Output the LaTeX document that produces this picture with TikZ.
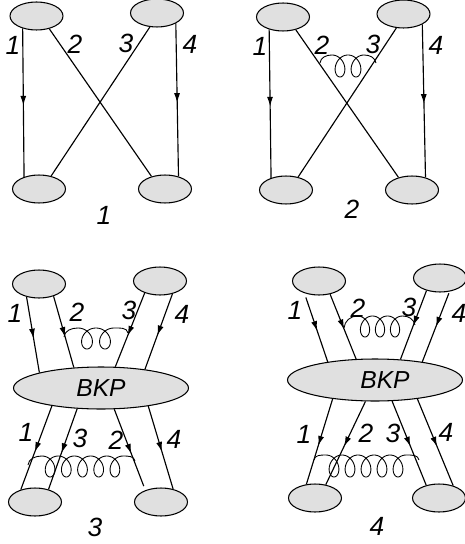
\documentclass[tikz,border=0pt]{standalone}
\usepackage{fontspec}
\setmainfont{Liberation Sans}
\usetikzlibrary{shapes.geometric}
\usetikzlibrary{arrows.meta}
\usetikzlibrary{decorations.markings}
\tikzset{>={Latex[length=5.6pt,width=3.4pt]}}
\tikzset{
    blob/.style={ellipse, draw, fill=black!12, line width=.6pt, inner sep=0, minimum width=1.06cm, minimum height=.56cm},
    bkp/.style={blob, minimum width=3.5cm, minimum height=.84cm, font=\fontsize{14}{16}\selectfont\itshape},
    lab/.style={font=\fontsize{15}{17}\selectfont\itshape, inner sep=0},
    quark/.style={line width=.65pt},
    flow/.style={quark, postaction={decorate}, decoration={markings, mark=at position #1 with {\arrow{>}}}},
    flow/.default=.55
}
% gluon: start, first top x, y, step, number of loops, loop height, loop width, end
\newcommand{\gluon}[8]{
    \draw[line width=.5pt] (#1) to[out=85, in=180] (#2, #3)
        -- plot[domain=0:360*#5, samples=40*#5, smooth, variable=\t]
            ({#2+#4*(\t/360)+#7*sin(\t)}, {#3+#6*(1-cos(\t))})
        to[out=0, in=100] (#8);
}
\begin{document}
\begin{tikzpicture}[x=.02cm, y=-.02cm]
    \useasboundingbox (0, 0) rectangle (464, 544);
    % 1 and 2 are the same crossing
    \foreach \p/\dx/\dy/\xa/\ya/\xb/\yb/\xc/\yc/\xd/\yd in {
        a/0/0/36.5/16/157/13/39/189/165/189,
        b/246.5/1/36.5/16/157/13/39.5/190/165.5/190}{
        \node[blob] (\p1) at (\xa+\dx, \ya+\dy) {};
        \node[blob] (\p2) at (\xb+\dx, \yb+\dy) {};
        \node[blob] (\p3) at (\xc+\dx, \yc) {};
        \node[blob] (\p4) at (\xd+\dx, \yd) {};
        \draw[flow=.52] (\p1.-138) -- (\p3.141);
        \draw[quark] (\p1.-45) -- (\p4.137);
        \draw[quark] (\p2.-117) -- (\p3.47);
        \draw[flow=.52] (\p2.-29) -- (\p4.43);
    }
    \coordinate (g2a) at (320, 63);
    \coordinate (g2b) at (376, 63);
    \gluon{g2a}{332}{55}{16}{2}{11}{8.5}{g2b}

    % 3
    \node[blob] (c1) at (39, 284) {};
    \node[blob] (c2) at (160, 281) {};
    \node[bkp] (cm) at (101, 388) {BKP};
    \node[blob] (c3) at (35, 502) {};
    \node[blob] (c4) at (161, 502) {};
    \draw[flow] (c1.-134) -- (cm.166);
    \draw[flow=.57] (c1.-40) -- (cm.143);
    \draw[flow=.58] (c2.-142) -- (cm.56);
    \draw[flow] (c2.-46) -- (cm.23);
    \draw[flow] (cm.-160) -- (c3.139);
    \draw[flow] (cm.-139) -- (c3.43);
    \draw[flow, shorten >=2.5pt] (cm.-58) -- (c4.143);
    \draw[flow] (cm.-21) -- (c4.47);
    \coordinate (g3a) at (64, 337);
    \coordinate (g3b) at (128, 333);
    \gluon{g3a}{78}{328}{18}{2}{10.5}{9.5}{g3b}
    \coordinate (g3c) at (28, 465);
    \coordinate (g3d) at (135, 461);
    \gluon{g3c}{42}{456}{16.2}{5}{10.5}{8.5}{g3d}

    % 4
    \node[blob] (d1) at (319, 281) {};
    \node[blob] (d2) at (440, 278) {};
    \node[bkp] (dm) at (375, 380) {\hspace{.4cm}BKP};
    \node[blob] (d3) at (315, 498) {};
    \node[blob] (d4) at (439, 498) {};
    \draw[flow, shorten <=2.5pt] (d1.-140) -- (dm.159);
    \draw[flow=.54] (d1.-50) -- (dm.132);
    \draw[flow=.51] (d2.-137) -- (dm.39);
    \draw[flow=.5, shorten <=1pt] (d2.-55) -- (dm.21);
    \draw[flow] (dm.-156) -- (d3.122);
    \draw[flow=.54] (dm.-114) -- (d3.51);
    \draw[flow=.54] (dm.-51) -- (d4.135);
    \draw[flow] (dm.-24) -- (d4.41);
    \coordinate (g4a) at (344, 328);
    \coordinate (g4b) at (415, 325);
    \gluon{g4a}{357.5}{316}{15}{3}{10.5}{8}{g4b}
    \coordinate (g4c) at (314, 460);
    \coordinate (g4d) at (419, 460);
    \gluon{g4c}{326}{455}{16}{5}{11}{8.5}{g4d}

    % labels
    \foreach \x/\y/\txt [count=\i] in {
        13/45/1, 75/44/2, 126/43/3, 190/44/4, 104/215/1,
        260/46/1, 322/45/2, 373/44/3, 436/45/4, 352/209/2,
        15/313/1, 77/312/2, 129/310/3, 182/314/4,
        26/432/1, 80/438/3, 116/440/2, 174/439/4, 95/527/3,
        295/310/1, 358/308/2, 409/307/3, 459/313/4,
        304/434/1, 366/433/2, 393/433/3, 446/432/4, 377/526/4}{
        \node[lab] (n\i) at (\x, \y) {\txt};
    }
\end{tikzpicture}
\end{document}
